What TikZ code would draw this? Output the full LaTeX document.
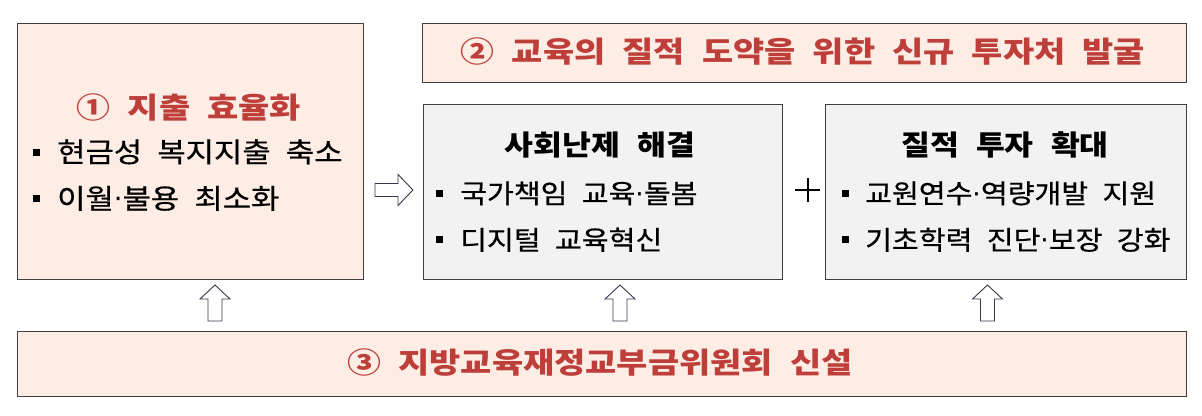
\documentclass[tikz,border=0pt]{standalone}
\usepackage{fontspec}
\setmainfont{Noto Sans CJK KR}
\newfontfamily\krt[FakeStretch=1.17,WordSpace=2.2]{Noto Sans CJK KR}
\newfontfamily\krg[FakeStretch=1.12,WordSpace=2.4]{Noto Sans CJK KR}
\newfontfamily\krb[FakeStretch=1.12,WordSpace=2.2,FakeBold=0.6]{Noto Sans CJK KR}
\newfontfamily\krc[FakeStretch=1.1,WordSpace=2.2,FakeBold=0.6]{Noto Sans CJK KR}
\newfontfamily\dotf{DejaVu Sans}
\definecolor{pinkfill}{RGB}{253,237,229}
\definecolor{grayfill}{RGB}{242,242,242}
\definecolor{redtxt}{RGB}{190,62,58}
\definecolor{edge}{RGB}{64,64,64}
\definecolor{arrowedge}{RGB}{60,52,78}
\newcommand\bsq{\rule[6.5pt]{7pt}{7pt}}
\newcommand\md{{\dotf ·}}
\begin{document}
\begin{tikzpicture}[x=1pt,y=-1pt,
  box/.style={draw=edge, line width=1.2pt, inner sep=0pt, anchor=north west},
  redt/.style={text=redtxt, font=\krt\bfseries\fontsize{29}{32}\selectfont, inner sep=0pt, anchor=base},
  grayt/.style={text=black, font=\krg\bfseries\fontsize{28}{32}\selectfont, inner sep=0pt, anchor=base},
  bul/.style={text=black, font=\krb\fontsize{27.5}{32}\selectfont, inner sep=0pt, anchor=base west},
  bulg/.style={text=black, font=\krc\fontsize{26.5}{32}\selectfont, inner sep=0pt, anchor=base west},
  barrow/.style={draw=arrowedge, fill=white, line width=0.9pt, line join=miter},
  plusline/.style={draw=black, line width=2pt}]
\useasboundingbox (0,0) rectangle (1202,415);
% boxes
\node[box, fill=pinkfill, minimum width=346pt, minimum height=256pt] (b1) at (17,23) {};
\node[box, fill=pinkfill, minimum width=764pt, minimum height=59pt] (b2) at (422,23) {};
\node[box, fill=grayfill, minimum width=359pt, minimum height=175pt] (g1) at (423,104) {};
\node[box, fill=grayfill, minimum width=361pt, minimum height=175pt] (g2) at (825,104) {};
\node[box, fill=pinkfill, minimum width=1169pt, minimum height=65pt] (b3) at (17,331) {};
% texts
\node[redt] (t2) at (803,62.7) {② 교육의 질적 도약을 위한 신규 투자처 발굴};
\node[redt] (t1) at (189,118) {① 지출 효율화};
\node[redt] (t3) at (600,373.5) {③ 지방교육재정교부금위원회 신설};
\node[bul] (l11) at (33,162.2) {\bsq\hspace{17pt}현금성 복지지출 축소};
\node[bul] (l12) at (33,208.7) {\bsq\hspace{17pt}이월\md 불용 최소화};
\node[grayt] (tg1) at (600,155.4) {사회난제 해결};
\node[bulg] (l21) at (436,203.3) {\bsq\hspace{17pt}국가책임 교육\md 돌봄};
\node[bulg] (l22) at (436,249.8) {\bsq\hspace{17pt}디지털 교육혁신};
\node[grayt] (tg2) at (1005,155.4) {질적 투자 확대};
\node[bulg] (l31) at (842,203.3) {\bsq\hspace{16pt}교원연수\md 역량개발 지원};
\node[bulg] (l32) at (842,249.8) {\bsq\hspace{16pt}기초학력 진단\md 보장 강화};
% right arrow
\coordinate (ra) at (375,190);
\draw[barrow] (ra) ++(0,-6.5) -- ++(23,0) -- ++(0,-9) -- ++(15,15.5) -- ++(-15,15.5) -- ++(0,-9) -- ++(-23,0) -- cycle;
% plus
\coordinate (pl) at (807.5,190);
\draw[plusline] (pl) ++(-12.5,0) -- ++(25,0);
\draw[plusline] (pl) ++(0,-12) -- ++(0,24);
% up arrows
\foreach \nm/\cx in {u1/215,u2/620,u3/987.5}{
  \coordinate (\nm) at (\cx,321);
  \draw[barrow] (\nm) ++(-7,0) -- ++(0,-22) -- ++(-8,0) -- ++(15,-14) -- ++(15,14) -- ++(-8,0) -- ++(0,22) -- cycle;
}
\end{tikzpicture}
\end{document}
